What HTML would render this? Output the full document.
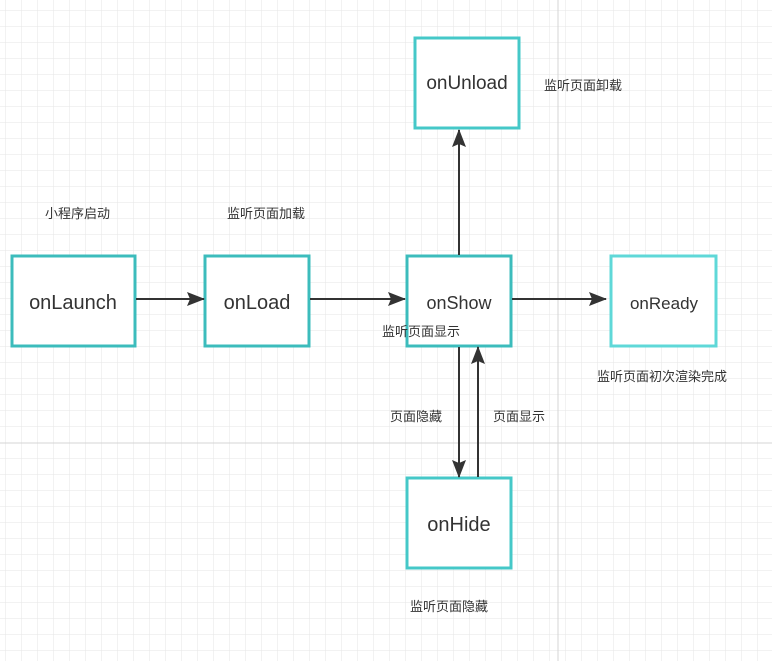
<!DOCTYPE html>
<html><head><meta charset="utf-8"><style>
html,body{margin:0;padding:0;background:#fff;}
svg{display:block;}
text{font-family:"Liberation Sans","Noto Sans CJK SC",sans-serif;fill:#333;}
</style></head><body>
<svg width="772" height="661" viewBox="0 0 772 661" xmlns="http://www.w3.org/2000/svg">
<defs>
<pattern id="g" width="16" height="16" patternUnits="userSpaceOnUse" x="6" y="11">
<path d="M16 0V16M0 16H16" fill="none" stroke="#e6e6e6" stroke-width="1"/>
</pattern>
<marker id="a" markerWidth="18" markerHeight="14" refX="17" refY="7" orient="auto" markerUnits="userSpaceOnUse"><path d="M0 0L18 7L0 14L3 7Z" fill="#333"/></marker>
</defs>
<rect width="772" height="661" fill="url(#g)"/>
<line x1="0" y1="443" x2="772" y2="443" stroke="#d4d4d4"/>
<line x1="558" y1="0" x2="558" y2="661" stroke="#d4d4d4"/>
<g fill="#fff" stroke="#3cbcbc" stroke-width="3">
<rect x="12" y="256" width="123" height="90"/>
<rect x="205" y="256" width="104" height="90"/>
<rect x="407" y="256" width="104" height="90"/>
<rect x="611" y="256" width="105" height="90" stroke="#5fd8d8"/>
<rect x="415" y="38" width="104" height="90" stroke="#45c8c8"/>
<rect x="407" y="478" width="104" height="90" stroke="#45c8c8"/>
</g>
<g stroke="#333" stroke-width="2" fill="none">
<line x1="136" y1="299" x2="204" y2="299" marker-end="url(#a)"/>
<line x1="310" y1="299" x2="405" y2="299" marker-end="url(#a)"/>
<line x1="512" y1="299" x2="606" y2="299" marker-end="url(#a)"/>
<line x1="459" y1="255" x2="459" y2="130" marker-end="url(#a)"/>
<line x1="459" y1="347" x2="459" y2="477" marker-end="url(#a)"/>
<line x1="478" y1="477" x2="478" y2="347" marker-end="url(#a)"/>
</g>
<g font-size="20" text-anchor="middle">
<text x="73" y="309">onLaunch</text>
<text x="257" y="309">onLoad</text>
<text x="459" y="309" font-size="18">onShow</text>
<text x="664" y="309" font-size="17">onReady</text>
<text x="467" y="89" font-size="19">onUnload</text>
<text x="459" y="531">onHide</text>
</g>
<g font-size="13">
<text x="45" y="218">小程序启动</text>
<text x="227" y="218">监听页面加载</text>
<text x="544" y="90">监听页面卸载</text>
<text x="382" y="336">监听页面显示</text>
<text x="597" y="381">监听页面初次渲染完成</text>
<text x="390" y="421">页面隐藏</text>
<text x="493" y="421">页面显示</text>
<text x="410" y="611">监听页面隐藏</text>
</g>
</svg>
</body></html>
